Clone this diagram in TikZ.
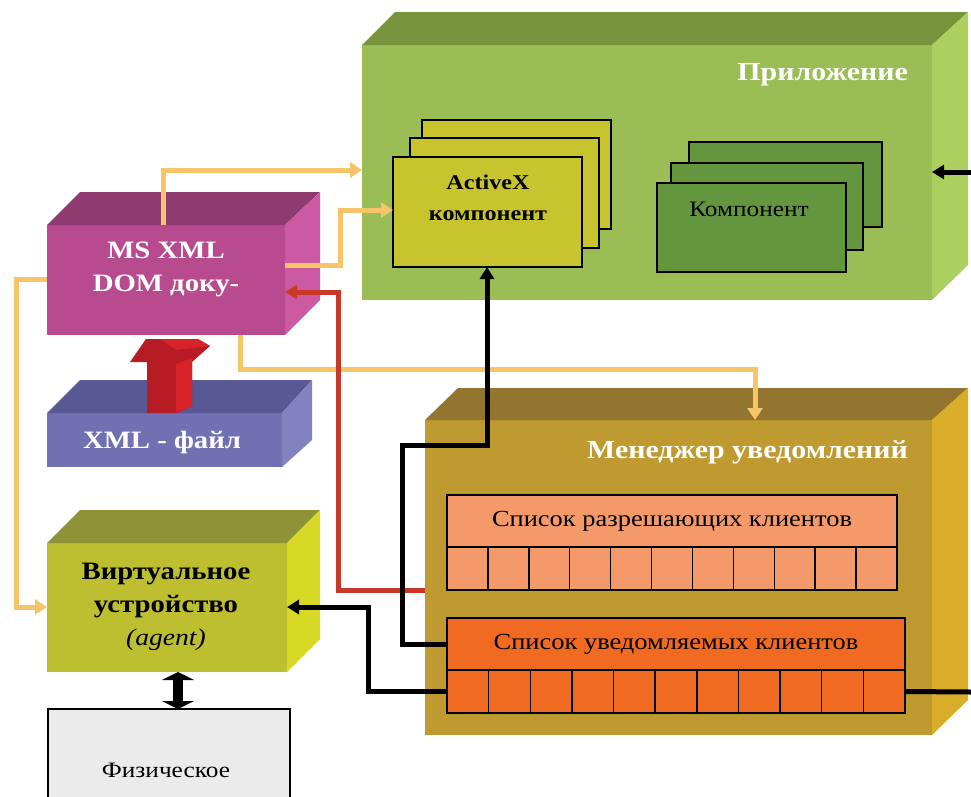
\documentclass[tikz,border=0pt]{standalone}
\usepackage{fontspec}
\setmainfont{Liberation Serif}[FakeStretch=1.15]
\usetikzlibrary{arrows.meta,calc}
\definecolor{appF}{HTML}{9BBD55}
\definecolor{appT}{HTML}{77933C}
\definecolor{appS}{HTML}{ABD05F}
\definecolor{axC}{HTML}{C8C42E}
\definecolor{kmC}{HTML}{63963F}
\definecolor{msF}{HTML}{B84B8F}
\definecolor{msT}{HTML}{8E3B72}
\definecolor{msS}{HTML}{CB5AA2}
\definecolor{xfF}{HTML}{7070B2}
\definecolor{xfT}{HTML}{575894}
\definecolor{xfS}{HTML}{8282C0}
\definecolor{vdF}{HTML}{BDBE30}
\definecolor{vdT}{HTML}{8F9236}
\definecolor{vdS}{HTML}{D7D925}
\definecolor{mgF}{HTML}{BE9A30}
\definecolor{mgT}{HTML}{937530}
\definecolor{mgS}{HTML}{D8AE28}
\definecolor{lOne}{HTML}{F3996A}
\definecolor{lTwo}{HTML}{F06A22}
\definecolor{lineO}{HTML}{F8C46A}
\definecolor{lineR}{HTML}{C8392A}
\definecolor{phC}{HTML}{EBEBEB}
\definecolor{redD}{HTML}{B71C24}
\definecolor{redL}{HTML}{D8222A}
\tikzset{
  face/.style={rectangle, inner sep=0pt, outer sep=0pt, draw=none, anchor=north west},
  card/.style={rectangle, inner sep=0pt, outer sep=0pt, draw=black, line width=1.5pt, anchor=north west},
  txt/.style={inner sep=0pt, align=center},
  wtitle/.style={txt, text=white, font=\fontsize{26}{30}\selectfont\bfseries},
  oline/.style={draw=lineO, line width=5pt},
  rline/.style={draw=lineR, line width=5pt},
  kline/.style={draw=black, line width=5pt},
  tipO/.style={-{Triangle[width=15pt,length=12pt]}},
  tipK/.style={-{Triangle[width=14pt,length=12pt]}},
}
\begin{document}
\begin{tikzpicture}[x=1pt,y=-1pt]
\useasboundingbox (0,0) rectangle (971,796);
\fill[white] (0,0) rectangle (971,796);

% ---------- Application ----------
\node[face, fill=appF, minimum width=570pt, minimum height=255pt] (app) at (362,45) {};
\fill[appT] (app.north west) -- ++(33,-33) -- ($(app.north east)+(36,-33)$) -- (app.north east) -- cycle;
\fill[appS] (app.north east) -- ++(36,-33) -- ($(app.south east)+(36,-35)$) -- (app.south east) -- cycle;
\node[wtitle, anchor=east] (apptitle) at (908,75) {Приложение};

\node[card, fill=axC, minimum width=189pt, minimum height=109pt] (ax3) at (422,120) {};
\node[card, fill=axC, minimum width=189pt, minimum height=110pt] (ax2) at (410,138) {};
\node[card, fill=axC, minimum width=189pt, minimum height=110pt] (ax1) at (393,157) {};
\node[txt, font=\fontsize{21}{31}\selectfont\bfseries] (axlbl) at (488,198) {ActiveX\\компонент};

\node[card, fill=kmC, minimum width=193pt, minimum height=85pt] (km3) at (689,142) {};
\node[card, fill=kmC, minimum width=192pt, minimum height=87pt] (km2) at (671,163) {};
\node[card, fill=kmC, minimum width=189pt, minimum height=89pt] (km1) at (657,183) {};
\node[txt, font=\fontsize{22}{26}\selectfont] (kmlbl) at (749,209) {Компонент};

% ---------- MS XML DOM ----------
\node[face, fill=msF, minimum width=238pt, minimum height=110pt] (msxml) at (47,225) {};
\fill[msT] (msxml.north west) -- ++(33,-33) -- ($(msxml.north east)+(35,-33)$) -- (msxml.north east) -- cycle;
\fill[msS] (msxml.north east) -- ++(35,-33) -- ($(msxml.south east)+(35,-35)$) -- (msxml.south east) -- cycle;
\node[txt, text=white, font=\fontsize{25}{33}\selectfont\bfseries] (mslbl) at (166,269) {MS XML\\DOM доку-};

% ---------- XML file ----------
\node[face, fill=xfF, minimum width=235pt, minimum height=54pt] (xf) at (47,413) {};
\fill[xfT] (xf.north west) -- ++(33,-33) -- ($(xf.north east)+(30,-33)$) -- (xf.north east) -- cycle;
\fill[xfS] (xf.north east) -- ++(30,-33) -- ($(xf.south east)+(30,-27)$) -- (xf.south east) -- cycle;
\node[txt, text=white, font=\fontsize{25}{30}\selectfont\bfseries] (xflbl) at (162,442) {XML - файл};

% red block arrow (XML file -> MS XML)
\fill[redD] (147,413) -- (147,362) -- (130,362) -- (146,339) -- (198,339) -- (210,346) -- (192,362) -- (192,406) -- (177,413) -- cycle;
\fill[redL] (176,413) -- (176,364) -- (192,358) -- (192,406) -- cycle;
\fill[redL] (160,339) -- (198,339) -- (210,346) -- (176,350) -- cycle;

% ---------- Virtual device ----------
\node[face, fill=vdF, minimum width=240pt, minimum height=129pt] (vd) at (47,543) {};
\fill[vdT] (vd.north west) -- ++(33,-33) -- ($(vd.north east)+(33,-33)$) -- (vd.north east) -- cycle;
\fill[vdS] (vd.north east) -- ++(33,-33) -- ($(vd.south east)+(33,-33)$) -- (vd.south east) -- cycle;
\node[txt, font=\fontsize{25}{33}\selectfont\bfseries] (vdlbl) at (166,607) {Виртуальное\\устройство\\{\fontsize{24}{33}\selectfont\mdseries\itshape (agent)}};

% ---------- Physical ----------
\node[card, fill=phC, minimum width=242pt, minimum height=110pt] (phys) at (48,709) {};
\node[txt, font=\fontsize{22}{26}\selectfont] (phlbl) at (166,770) {Физическое};

% ---------- Notification manager ----------
\node[face, fill=mgF, minimum width=507pt, minimum height=315pt] (mgr) at (425,420) {};
\fill[mgT] (mgr.north west) -- ++(33,-32) -- ($(mgr.north east)+(36,-32)$) -- (mgr.north east) -- cycle;
\fill[mgS] (mgr.north east) -- ++(36,-32) -- ($(mgr.south east)+(36,-35)$) -- (mgr.south east) -- cycle;
\node[wtitle, anchor=east] (mgtitle) at (908,452) {Менеджер уведомлений};

\node[card, fill=lOne, minimum width=450pt, minimum height=52pt] (l1h) at (447,495) {};
\node[card, fill=lOne, minimum width=450pt, minimum height=43pt] (l1c) at (447,547) {};
\foreach \k in {1,...,10} \draw[black, line width=1.5pt] ($(l1c.north west)+(\k*450/11,0)$) -- ($(l1c.south west)+(\k*450/11,0)$);
\node[txt, font=\fontsize{23}{26}\selectfont] (l1lbl) at (l1h.center) {Список разрешающих клиентов};

\node[card, fill=lTwo, minimum width=458pt, minimum height=52pt] (l2h) at (447,618) {};
\node[card, fill=lTwo, minimum width=458pt, minimum height=43pt] (l2c) at (447,670) {};
\foreach \k in {1,...,10} \draw[black, line width=1.5pt] ($(l2c.north west)+(\k*458/11,0)$) -- ($(l2c.south west)+(\k*458/11,0)$);
\node[txt, font=\fontsize{23}{26}\selectfont] (l2lbl) at (l2h.center) {Список уведомляемых клиентов};

% ---------- connectors ----------
\coordinate (rin) at (971,172);
\coordinate (rout) at (971,692);

\draw[oline, tipO] ([xshift=116pt]msxml.north west) -- (163,170) -- (app.west |- 0,170);
\draw[oline, tipO] (msxml.east |- 0,265) -- (340,265) -- (340,210) -- (ax1.west |- 0,210);
\draw[oline, tipO] (240,0 |- msxml.south) -- (240,369) -- (755,369) -- (755,0 |- mgr.north);
\draw[oline, tipO] (msxml.west |- 0,279) -- (16,279) -- (16,607) -- (vd.west |- 0,607);

\draw[rline, tipK] (mgr.west |- 0,590) -- (338,590) -- (338,292) -- (msxml.east |- 0,292);

\draw[kline, tipK] (l2h.west) -- (402,0 |- l2h.west) -- (402,445) -- (487,445) -- (487,0 |- ax1.south);
\draw[kline, tipK] (l2c.west) -- (368,0 |- l2c.west) -- (368,607) -- (vd.east |- 0,607);
\draw[kline] (l2c.east) -- (rout);
\draw[kline, tipK] (rin) -- (app.east |- rin);
\draw[black, line width=10pt, {Triangle[width=32pt,length=8pt]}-{Triangle[width=32pt,length=8pt]}] (178,0 |- vd.south) -- (178,0 |- phys.north);
\end{tikzpicture}
\end{document}
